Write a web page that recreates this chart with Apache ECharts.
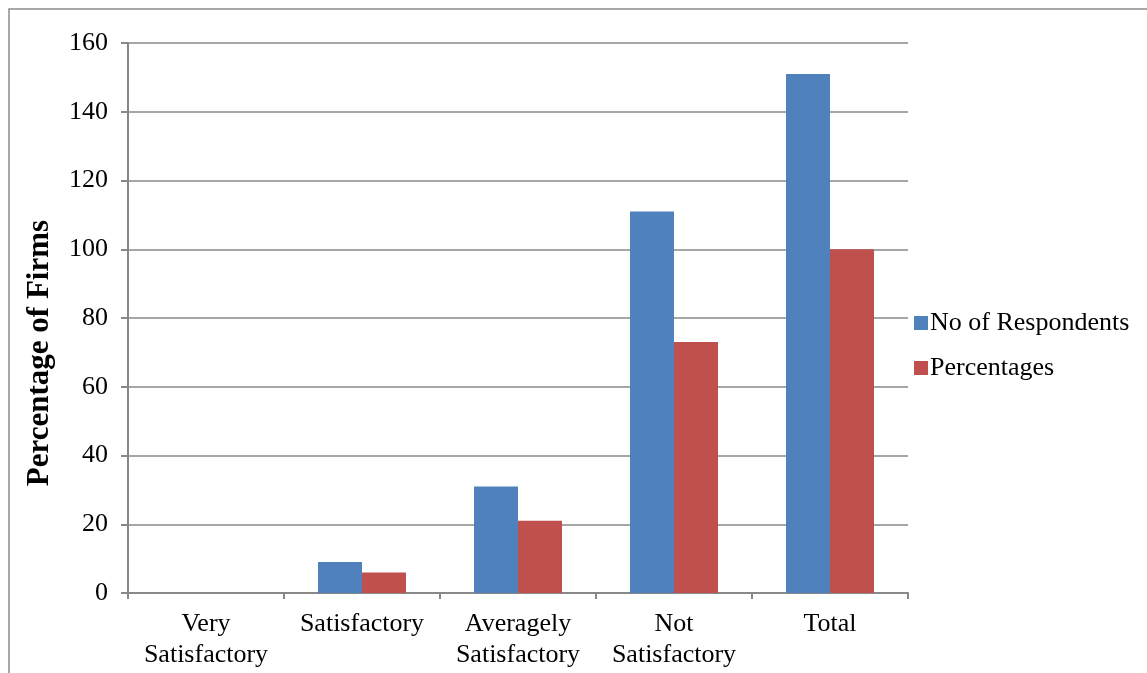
<!DOCTYPE html>
<html><head><meta charset="utf-8">
<script src="https://cdn.jsdelivr.net/npm/echarts@6/dist/echarts.min.js"></script>
<style>html,body{margin:0;padding:0;background:#fff}#c{width:1147px;height:673px}</style>
</head><body><div id="c"></div>
<script>
const categories = ['Very\nSatisfactory', 'Satisfactory', 'Averagely\nSatisfactory', 'Not\nSatisfactory', 'Total'];
const respondents = [0, 9, 31, 111, 151];
const percentages = [0, 6, 21, 73, 100];
const yTicks = { min: 0, max: 160, interval: 20 };

const chart = echarts.init(document.getElementById('c'));
const font = 'Liberation Serif, Times New Roman, serif';
chart.setOption({
  animation: false,
  textStyle: { fontFamily: font },
  graphic: [
    { type: 'rect', shape: { x: 9, y: 9, width: 1300, height: 800 }, style: { fill: 'none', stroke: '#8c8c8c', lineWidth: 1.5 }, silent: true },
    { type: 'text', x: 40, y: 353, rotation: Math.PI / 2, style: { text: 'Percentage of Firms', font: 'bold 31px ' + font, fill: '#000', align: 'center', verticalAlign: 'middle' } }
  ],
  grid: { left: 128, right: 239, top: 43, bottom: 80 },
  legend: {
    orient: 'vertical', left: 909, top: 305, itemWidth: 14, itemHeight: 14, itemGap: 19, icon: 'rect',
    textStyle: { fontSize: 26, fontFamily: font, color: '#000', padding: [0, 0, 0, -3] },
    data: ['No of Respondents', 'Percentages']
  },
  xAxis: {
    type: 'category', data: categories,
    axisLine: { lineStyle: { color: '#888', width: 2 } },
    axisTick: { show: true, length: 6, interval: 0, lineStyle: { color: '#888', width: 2 } },
    axisLabel: { fontSize: 26, color: '#000', fontFamily: font, lineHeight: 31, margin: 16, interval: 0 }
  },
  yAxis: {
    type: 'value', min: yTicks.min, max: yTicks.max, interval: yTicks.interval,
    axisLine: { show: true, lineStyle: { color: '#888', width: 2 } },
    axisTick: { show: true, length: 7, lineStyle: { color: '#888', width: 2 } },
    splitLine: { lineStyle: { color: '#888', width: 1.5 } },
    axisLabel: { fontSize: 26, color: '#000', fontFamily: font, margin: 20 }
  },
  series: [
    { name: 'No of Respondents', type: 'bar', data: respondents, barWidth: 44, barGap: '0%', itemStyle: { color: '#4f81bd' } },
    { name: 'Percentages', type: 'bar', data: percentages, barWidth: 44, itemStyle: { color: '#c0504d' } }
  ]
});
</script></body></html>
